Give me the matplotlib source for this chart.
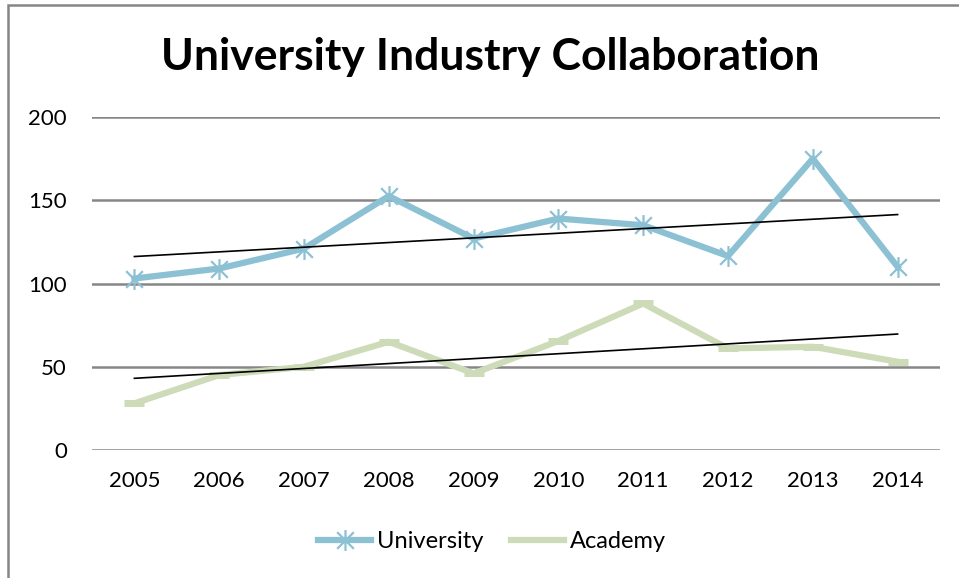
import numpy as np
import matplotlib.pyplot as plt
from matplotlib.patches import Rectangle
from matplotlib.lines import Line2D
from matplotlib.path import Path

# Yearly collaboration counts
years = ["2005", "2006", "2007", "2008", "2009", "2010", "2011", "2012", "2013", "2014"]
university = [103, 109, 121, 152.5, 127, 139, 135, 116.5, 175, 110]
academy = [28, 45, 50, 65, 46, 65.5, 88, 61, 62, 53]

uni_color = "#8cc1d4"
aca_color = "#cddbb8"
grid_color = "#868686"

plt.rcParams["font.family"] = ["Lato", "DejaVu Sans"]

# star marker: an X with a vertical bar through it
star = Path([(-1, -1), (1, 1), (-1, 1), (1, -1), (0, -1.25), (0, 1.25)],
            [Path.MOVETO, Path.LINETO, Path.MOVETO, Path.LINETO, Path.MOVETO, Path.LINETO])

fig = plt.figure(figsize=(9.59, 5.78), dpi=100)
ax = fig.add_axes([92 / 959, 1 - 450 / 578, (940 - 92) / 959, (450 - 117) / 578])

x = np.arange(len(years))

ax.plot(x, university, color=uni_color, lw=4.5, marker=star, ms=15, mew=1.6,
        mec=uni_color, zorder=3, label="University")
ax.plot(x, academy, color=aca_color, lw=4.5, marker="_", ms=14, mew=5,
        mec=aca_color, zorder=3, label="Academy")

# linear trend lines
for series in (university, academy):
    k, b = np.polyfit(x, series, 1)
    ax.plot(x, k * x + b, color="black", lw=1.2, zorder=4)

ax.set_xlim(-0.5, len(years) - 0.5)
ax.set_ylim(0, 200)
ax.set_yticks([0, 50, 100, 150, 200])
ax.set_xticks(x)
ax.set_xticklabels(years)
ax.yaxis.grid(True, color=grid_color, lw=1.8)
ax.set_axisbelow(True)
for s in ax.spines.values():
    s.set_visible(False)
ax.tick_params(length=0, labelsize=16, colors="black")
ax.tick_params(axis="x", pad=15)
ax.tick_params(axis="y", pad=18)

fig.text(490 / 959, 1 - 57 / 578, "University Industry Collaboration",
         ha="center", va="center", fontsize=32, fontweight="bold")

handles = [
    Line2D([], [], color=uni_color, lw=4.5, marker=star, ms=15, mew=1.6, mec=uni_color),
    Line2D([], [], color=aca_color, lw=4.5),
]
fig.legend(handles, ["University", "Academy"], loc="center",
           bbox_to_anchor=(492 / 959, 1 - 542 / 578), ncol=2, frameon=False,
           fontsize=17, handlelength=2.25, columnspacing=1.15, handletextpad=0.25)

# outer chart frame
fig.patches.append(Rectangle((8 / 959, -0.1), 1.2, 1 - 5 / 578 + 0.1,
                             transform=fig.transFigure, fill=False,
                             edgecolor=grid_color, lw=1.8))

fig.savefig("out.png", dpi=100)
